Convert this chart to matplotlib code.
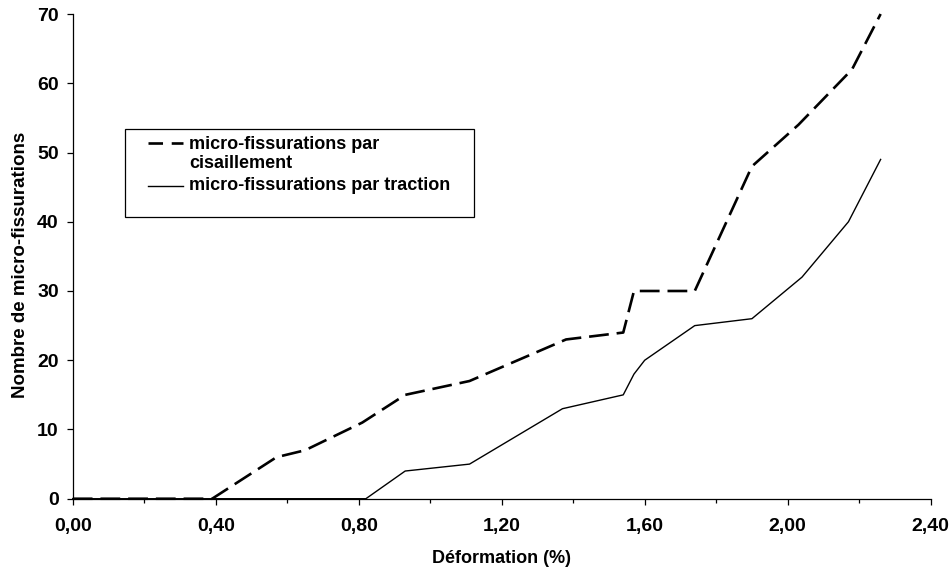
import matplotlib
matplotlib.use("Agg")
import matplotlib.pyplot as plt
from matplotlib.lines import Line2D
from matplotlib.patches import Rectangle
from matplotlib.ticker import FuncFormatter, MultipleLocator

plt.rcParams["font.family"] = ["Liberation Sans", "DejaVu Sans"]
plt.rcParams["font.weight"] = "bold"

# micro-fissurations par cisaillement (pointillés)
cis_x = [0.00, 0.39, 0.57, 0.65, 0.81, 0.93, 1.11, 1.38, 1.54, 1.57, 1.74, 1.90, 2.03, 2.18, 2.26]
cis_y = [0, 0, 6, 7, 11, 15, 17, 23, 24, 30, 30, 48, 54, 62, 70]

# micro-fissurations par traction (trait plein)
tra_x = [0.00, 0.82, 0.93, 1.11, 1.37, 1.54, 1.57, 1.60, 1.74, 1.90, 2.04, 2.17, 2.26]
tra_y = [0, 0, 4, 5, 13, 15, 18, 20, 25, 26, 32, 40, 49]

labels = ["micro-fissurations par\ncisaillement", "micro-fissurations par traction"]

fig = plt.figure(figsize=(9.52, 5.72), dpi=100)
ax = fig.add_axes([0.0764, 0.1281, 0.9012, 0.8474])

ax.plot(cis_x, cis_y, color="black", linewidth=1.9, dashes=(7.5, 3), dash_capstyle="butt",
        clip_on=False, zorder=3)
ax.plot(tra_x, tra_y, color="black", linewidth=1.0, clip_on=False, zorder=3)

ax.set_xlim(0, 2.40)
ax.set_ylim(0, 70)
ax.xaxis.set_major_locator(MultipleLocator(0.4))
ax.xaxis.set_minor_locator(MultipleLocator(0.2))
ax.yaxis.set_major_locator(MultipleLocator(10))
ax.xaxis.set_major_formatter(FuncFormatter(lambda v, p: f"{v:.2f}".replace(".", ",")))

for side in ["top", "right"]:
    ax.spines[side].set_visible(False)
for side in ["left", "bottom"]:
    ax.spines[side].set_linewidth(0.9)

ax.tick_params(axis="x", which="major", direction="out", length=4, width=0.9, pad=10, labelsize=14)
ax.tick_params(axis="x", which="minor", direction="out", length=3, width=0.9)
ax.tick_params(axis="y", which="major", direction="out", length=4, width=0.9, pad=6, labelsize=14)
for lab in ax.get_xticklabels() + ax.get_yticklabels():
    lab.set_fontweight("bold")

ax.set_xlabel("Déformation (%)", fontsize=13, fontweight="bold")
ax.set_ylabel("Nombre de micro-fissurations", fontsize=13.5, fontweight="bold")
ax.xaxis.set_label_coords(0.5, (498.7 - 559) / 485, transform=ax.transAxes)
ax.yaxis.set_label_coords((20 - 72.7) / 858, (498.7 - 265) / 485, transform=ax.transAxes)
ax.xaxis.label.set_va("center")
ax.yaxis.label.set_va("center")

# légende encadrée (coordonnées figure)
W, H = 952, 572
def fx(px):
    return px / W
def fy(py):
    return 1 - py / H

fig.patches.append(Rectangle((fx(125), fy(217.3)), fx(474) - fx(125), fy(129.3) - fy(217.3),
                             transform=fig.transFigure, facecolor="white", edgecolor="black",
                             linewidth=0.9, zorder=5))
fig.lines.append(Line2D([fx(148), fx(183)], [fy(143), fy(143)], transform=fig.transFigure,
                        color="black", linewidth=1.9, dashes=(5.5, 3.3), zorder=6))
fig.lines.append(Line2D([fx(148), fx(183)], [fy(186), fy(186)], transform=fig.transFigure,
                        color="black", linewidth=1.0, zorder=6))
fig.text(fx(189), fy(154), labels[0], fontsize=13, fontweight="bold", va="center", ha="left",
         linespacing=1.2, zorder=6)
fig.text(fx(189), fy(186), labels[1], fontsize=13, fontweight="bold", va="center", ha="left",
         zorder=6)

fig.savefig("out.png", dpi=100)
